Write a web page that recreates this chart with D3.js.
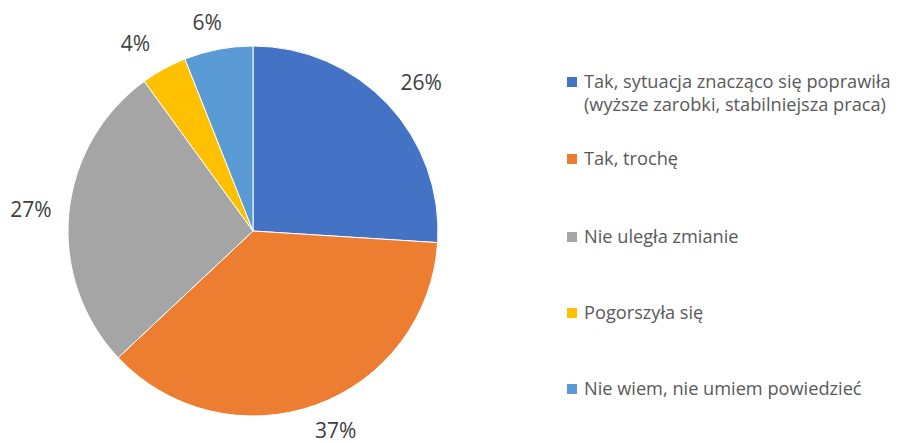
<!DOCTYPE html>
<html>
<head>
<meta charset="utf-8">
<script src="https://cdn.jsdelivr.net/npm/d3@7"></script>
<style>
  body { margin: 0; background: #fff; }
  text { font-family: "Open Sans", "Liberation Sans", sans-serif; }
</style>
</head>
<body>
<svg id="chart" width="900" height="443"></svg>
<script>
var categories = [
    ["Tak, sytuacja znacząco się poprawiła", "(wyższe zarobki, stabilniejsza praca)"],
    ["Tak, trochę"],
    ["Nie uległa zmianie"],
    ["Pogorszyła się"],
    ["Nie wiem, nie umiem powiedzieć"]
];
var values = [26, 37, 27, 4, 6];
var colors = ["#4472C4", "#ED7D31", "#A5A5A5", "#FFC000", "#5B9BD5"];

var svg = d3.select("#chart");
var cx = 253, cy = 231, r = 185;

var pie = d3.pie().sort(null).value(function (d) { return d; });
var arc = d3.arc().innerRadius(0).outerRadius(r);
var arcs = pie(values);

var g = svg.append("g").attr("transform", "translate(" + cx + "," + cy + ")");

g.selectAll("path")
    .data(arcs)
    .enter()
    .append("path")
    .attr("d", arc)
    .attr("fill", function (d, i) { return colors[i]; })
    .attr("stroke", "#fff")
    .attr("stroke-width", 1);

// outside-end labels: anchor point just past the rim, then shift by part of the text box
function clamp(t) { return Math.max(-1, Math.min(1, t * 2)); }
g.selectAll("text.lbl")
    .data(arcs)
    .enter()
    .append("text")
    .attr("class", "lbl")
    .attr("text-anchor", "middle")
    .attr("dy", "0.35em")
    .attr("font-size", 21)
    .attr("fill", "#404040")
    .attr("transform", function (d) {
        var a = (d.startAngle + d.endAngle) / 2;
        var s = Math.sin(a), c = Math.cos(a);
        var rr = r + 17;
        var x = s * rr + clamp(s) * 21;
        var y = -c * rr - clamp(c) * 10;
        return "translate(" + x + "," + y + ")";
    })
    .text(function (d) { return d.value + "%"; });

// legend
var legendY = [82, 159, 237, 313, 389];
var lg = svg.append("g");
categories.forEach(function (lines, i) {
    lg.append("rect")
        .attr("x", 567)
        .attr("y", legendY[i] - 5)
        .attr("width", 10)
        .attr("height", 10)
        .attr("fill", colors[i]);
    var t = lg.append("text")
        .attr("x", 584)
        .attr("y", legendY[i])
        .attr("font-size", 18.2)
        .attr("fill", "#595959");
    lines.forEach(function (line, j) {
        t.append("tspan")
            .attr("x", 584)
            .attr("dy", j == 0 ? "0.35em" : "1.22em")
            .text(line);
    });
});
</script>
</body>
</html>
